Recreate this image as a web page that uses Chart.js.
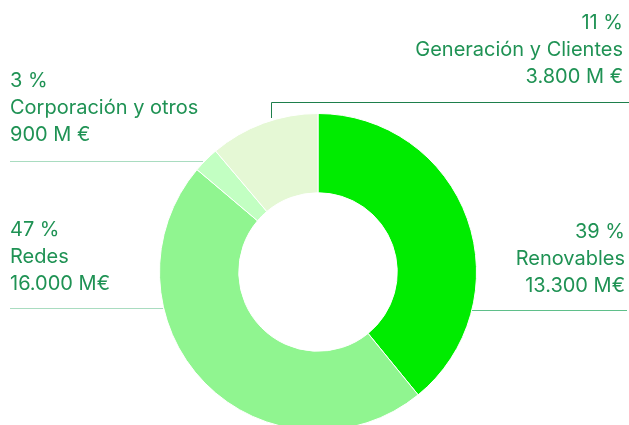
<!DOCTYPE html>
<html>
<head>
<meta charset="utf-8">
<script src="https://cdn.jsdelivr.net/npm/chart.js@4/dist/chart.umd.min.js"></script>
<style>
  html, body { margin: 0; padding: 0; background: #fff; overflow: hidden; }
  #wrap { width: 629px; height: 425px; overflow: hidden; position: relative; }
  canvas { display: block; }
</style>
</head>
<body>
<div id="wrap"><canvas id="c" width="629" height="445"></canvas></div>
<script>
const categories = ['Renovables', 'Redes', 'Corporación y otros', 'Generación y Clientes'];
const values = [13300, 16000, 900, 3800];
const pctLabels = ['39 %', '47 %', '3 %', '11 %'];
const amountLabels = ['13.300 M€', '16.000 M€', '900 M €', '3.800 M €'];
const colors = ['#00ec00', '#90f590', '#c2ffc2', '#e5f8d5'];

const TEXT_COLOR = '#1f9254';
const FONT = '20px Inter, Lato, sans-serif';

// label layout: anchor x, alignment, first-line center y, leader line
const layout = [
  { x: 625, align: 'right', y: 232, line: [[472, 310], [627, 310]], lc: '#5fbf8a' },
  { x: 10, align: 'left', y: 230, line: [[10, 308], [163, 308]], lc: '#a9dcc0' },
  { x: 10, align: 'left', y: 81, line: [[10, 161], [203, 161]], lc: '#a9dcc0' },
  { x: 623, align: 'right', y: 23, line: [[271, 118], [271, 102], [629, 102]], lc: '#1e7f4c' }
];

const labelPlugin = {
  id: 'labels',
  afterDraw(chart) {
    const ctx = chart.ctx;
    ctx.save();
    layout.forEach((l, i) => {
      ctx.strokeStyle = l.lc;
      ctx.lineWidth = 1;
      ctx.beginPath();
      if (l.line.length === 3) {
        ctx.moveTo(l.line[0][0] + 0.5, l.line[0][1]);
        ctx.lineTo(l.line[1][0] + 0.5, l.line[1][1] + 0.5);
        ctx.lineTo(l.line[2][0], l.line[2][1] + 0.5);
      } else {
        ctx.moveTo(l.line[0][0], l.line[0][1] + 0.5);
        ctx.lineTo(l.line[1][0], l.line[1][1] + 0.5);
      }
      ctx.stroke();
      ctx.fillStyle = TEXT_COLOR;
      ctx.font = FONT;
      ctx.textAlign = l.align;
      ctx.textBaseline = 'middle';
      const lines = [pctLabels[i], categories[i], amountLabels[i]];
      lines.forEach((t, j) => ctx.fillText(t, l.x, l.y + j * 27));
    });
    ctx.restore();
  }
};

new Chart(document.getElementById('c'), {
  type: 'doughnut',
  data: {
    labels: categories,
    datasets: [{
      data: values,
      backgroundColor: colors,
      borderColor: '#ffffff',
      borderWidth: 1,
      hoverOffset: 0
    }]
  },
  options: {
    responsive: false,
    animation: false,
    cutout: '50%',
    rotation: 0,
    layout: { padding: { top: 113, bottom: 14, left: 159, right: 152 } },
    plugins: { legend: { display: false }, tooltip: { enabled: false } }
  },
  plugins: [labelPlugin]
});
</script>
</body>
</html>
